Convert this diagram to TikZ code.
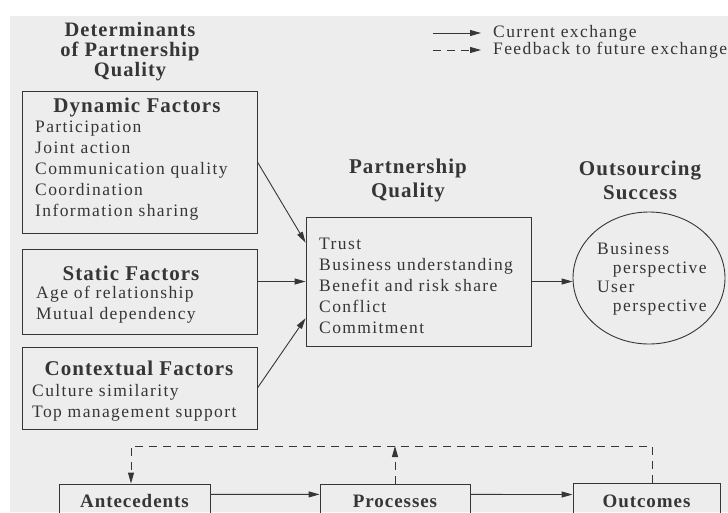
\documentclass[tikz,border=0pt]{standalone}
\usepackage{fontspec}
\setmainfont[LetterSpace=8]{Liberation Serif}
\newfontfamily\headfont[LetterSpace=5]{Liberation Serif}
\usetikzlibrary{arrows.meta, shapes.geometric}
\definecolor{ink}{HTML}{363636}
\definecolor{paper}{HTML}{EDEDED}
\tikzset{
  factorbox/.style={draw=ink, line width=0.9pt, inner sep=0pt},
  head/.style={font=\headfont\fontsize{21}{21}\selectfont\bfseries, text=ink, align=center, inner sep=0pt},
  items/.style={font=\fontsize{17.5}{21}\selectfont, text=ink, align=left, inner sep=0pt, anchor=west},
  flow/.style={draw=ink, line width=0.9pt, -{Triangle[length=11pt,width=6pt]}},
  back/.style={flow, dash pattern=on 8pt off 6pt},
}

\begin{document}
\begin{tikzpicture}[x=1pt, y=-1pt]
            \useasboundingbox (0,0) rectangle (728,512);
            \clip (0,0) rectangle (728,512);
            \fill[white] (0,0) rectangle (728,512);
            \fill[paper] (10,16) rectangle (728,512);

            % legend
            \coordinate (curS) at (433,33);
            \coordinate (curE) at (481,33);
            \coordinate (fbS) at (433,50);
            \coordinate (fbE) at (481,50);
            \draw[flow] (curS) -- (curE);
            \draw[back] (fbS) -- (fbE);
            \node[items] (curlab) at (493,33) {Current exchange};
            \node[items] (fblab) at (493,50) {Feedback to future exchange};

            % determinants
            \node[head, font=\headfont\fontsize{20.5}{20}\selectfont\bfseries] (dethead) at (130,52) {Determinants\\of Partnership\\Quality};
            \node[factorbox, minimum width=235pt, minimum height=142pt] (dyn) at (139.5,162) {};
            \node[factorbox, minimum width=235pt, minimum height=85pt] (stat) at (139.5,291.5) {};
            \node[factorbox, minimum width=235pt, minimum height=82pt] (ctx) at (139.5,388) {};
            \node[head] (dynhead) at (137,107) {Dynamic Factors};
            \node[items] (dynlist) at (35,171) {Participation\\Joint action\\Communication quality\\Coordination\\Information sharing};
            \node[head] (stathead) at (131,273) {Static Factors};
            \node[items] (statlist) at (36,304.5) {Age of relationship\\Mutual dependency};
            \node[head] (ctxhead) at (139,368) {Contextual Factors};
            \node[items] (ctxlist) at (32,402.5) {Culture similarity\\Top management support};

            % partnership quality and success
            \node[head, font=\headfont\fontsize{21}{24}\selectfont\bfseries] (pqhead) at (408,180) {Partnership\\Quality};
            \node[factorbox, minimum width=225pt, minimum height=129pt] (pq) at (418.5,281.5) {};
            \node[items] (pqlist) at (319,285.5) {Trust\\Business understanding\\Benefit and risk share\\Conflict\\Commitment};
            \node[head, font=\headfont\fontsize{21}{24}\selectfont\bfseries] (succhead) at (640,180) {Outsourcing\\Success};
            \node[factorbox, ellipse, minimum width=152pt, minimum height=132pt] (succ) at (649,278) {};
            \node[items, font=\fontsize{17.5}{19}\selectfont] (succlist) at (597,279) {Business\\\hspace*{0.9em}perspective\\User\\\hspace*{0.9em}perspective};

            \draw[flow] (dyn.east) -- (pq.161);
            \draw[flow] (stat.east |- pq.west) -- (pq.west);
            \draw[flow] (ctx.east) -- (pq.198);
            \draw[flow] (pq.east) -- (pq.east -| succ.west);

            % exchange cycle
            \node[factorbox, head, font=\headfont\fontsize{19}{20}\selectfont\bfseries, minimum width=151pt, minimum height=34pt] (ante) at (134.5,501) {Antecedents};
            \node[factorbox, head, font=\headfont\fontsize{19}{20}\selectfont\bfseries, minimum width=150pt, minimum height=34pt] (proc) at (395,501) {Processes};
            \node[factorbox, head, font=\headfont\fontsize{19}{20}\selectfont\bfseries, minimum width=147pt, minimum height=36pt] (outc) at (646.5,501) {Outcomes};
            \draw[flow] (ante.5) -- (proc.175);
            \draw[flow] (proc.5) -- (outc.175);

            \coordinate (fbL) at (131,446);
            \coordinate (fbR) at (652,446);
            \draw[back] (outc.north -| fbR) -- (fbR) -- (fbL) -- (ante.north -| fbL);
            \draw[back] (proc.north) -- (proc.north |- fbR);
\end{tikzpicture}
\end{document}
